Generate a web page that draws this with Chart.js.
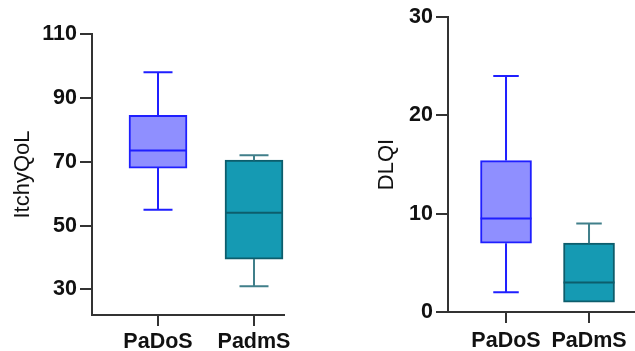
<!DOCTYPE html>
<html>
<head>
<meta charset="utf-8">
<script src="https://cdn.jsdelivr.net/npm/chart.js@4"></script>
<style>
  body { margin: 0; background: #fff; }
  #left { position: absolute; left: 0; top: 0; }
  #right { position: absolute; left: 318px; top: 0; }
</style>
</head>
<body>
<canvas id="left" width="318" height="351"></canvas>
<canvas id="right" width="317" height="351"></canvas>
<script>
// ItchyQoL panel
var itchyGroups = ["PaDoS", "PadmS"];
var itchyMin = [55, 31];
var itchyQ1 = [68, 39.5];
var itchyMed = [73.5, 54];
var itchyQ3 = [84.5, 70.5];
var itchyMax = [98, 72];
var itchyTicks = [30, 50, 70, 90, 110];

// DLQI panel
var dlqiGroups = ["PaDoS", "PaDmS"];
var dlqiMin = [2, 1];
var dlqiQ1 = [7, 1];
var dlqiMed = [9.5, 3];
var dlqiQ3 = [15.4, 7];
var dlqiMax = [24, 9];
var dlqiTicks = [0, 10, 20, 30];

var fillColors = ["#8f8fff", "#159ab3"];
var edgeColors = ["#1f1fff", "#0d5d6c"];
var whiskerColors = ["#1f1fff", "#407f8a"];

Chart.defaults.font.family = "'Liberation Sans', Arial, sans-serif";
Chart.defaults.color = "#111";

// whiskers + median lines, drawn through the chart scales
var boxPlugin = {
  id: "whiskers",
  afterDatasetsDraw: function(chart, args, opts) {
    var ctx = chart.ctx;
    var xs = chart.scales.x, ys = chart.scales.y;
    var meta = chart.getDatasetMeta(0);
    ctx.save();
    ctx.lineWidth = 2;
    for (var i = 0; i < opts.med.length; i++) {
      var bar = meta.data[i];
      var cx = xs.getPixelForValue(i + 1);
      var half = bar.width / 2;
      var cap = half / 2;
      var yq1 = ys.getPixelForValue(opts.q1[i]);
      var yq3 = ys.getPixelForValue(opts.q3[i]);
      var ymin = ys.getPixelForValue(opts.min[i]);
      var ymax = ys.getPixelForValue(opts.max[i]);
      var ymed = ys.getPixelForValue(opts.med[i]);
      ctx.strokeStyle = whiskerColors[i];
      ctx.beginPath();
      if (opts.max[i] > opts.q3[i]) {
        ctx.moveTo(cx, yq3); ctx.lineTo(cx, ymax);
        ctx.moveTo(cx - cap, ymax); ctx.lineTo(cx + cap, ymax);
      }
      if (opts.min[i] < opts.q1[i]) {
        ctx.moveTo(cx, yq1); ctx.lineTo(cx, ymin);
        ctx.moveTo(cx - cap, ymin); ctx.lineTo(cx + cap, ymin);
      }
      ctx.stroke();
      ctx.strokeStyle = edgeColors[i];
      ctx.beginPath();
      ctx.moveTo(cx - half, ymed); ctx.lineTo(cx + half, ymed);
      ctx.stroke();
    }
    ctx.restore();
  }
};

function makeBox(id, groups, mins, q1, med, q3, maxs, ticks, yMin, yMax, xMin, xMax, title, opt) {
  var boxes = [];
  for (var i = 0; i < groups.length; i++) {
    boxes.push({x: i + 1, y: [q1[i], q3[i]]});
  }
  return new Chart(id, {
    type: "bar",
    data: {
      datasets: [{
        data: boxes,
        backgroundColor: fillColors,
        borderColor: edgeColors,
        borderWidth: 2,
        borderSkipped: false,
        barThickness: opt.barW
      }]
    },
    options: {
      responsive: false,
      animation: false,
      layout: {padding: {left: opt.padLeft, right: opt.padRight, top: opt.padTop, bottom: 0}},
      plugins: {
        legend: {display: false},
        tooltip: {enabled: false},
        whiskers: {min: mins, q1: q1, med: med, q3: q3, max: maxs}
      },
      scales: {
        x: {
          type: "linear",
          min: xMin,
          max: xMax,
          offset: false,
          afterBuildTicks: function(s) { s.ticks = groups.map(function(g, i) { return {value: i + 1}; }); },
          afterFit: function(s) { s.height = opt.xH; },
          ticks: {
            autoSkip: false,
            maxRotation: 0,
            padding: opt.xPad,
            color: "#111",
            font: {size: 21.5, weight: "bold"},
            callback: function(v) { return groups[v - 1]; }
          },
          grid: {display: true, offset: false, drawOnChartArea: false, tickLength: 11, color: "#333", lineWidth: 2},
          border: {display: true, color: "#333", width: 2}
        },
        y: {
          min: yMin,
          max: yMax,
          afterBuildTicks: function(s) { s.ticks = ticks.map(function(t) { return {value: t}; }); },
          afterFit: function(s) { s.width = opt.yW; },
          ticks: {padding: 3, color: "#111", font: {size: 21.5, weight: "bold"}},
          grid: {display: true, drawOnChartArea: false, tickLength: 12, color: "#333", lineWidth: 2},
          border: {display: true, color: "#333", width: 2},
          title: {display: true, text: title, color: "#111", font: {size: 22}, padding: {top: opt.titlePad, bottom: 0}}
        }
      }
    },
    plugins: [boxPlugin]
  });
}

makeBox("left", itchyGroups, itchyMin, itchyQ1, itchyMed, itchyQ3, itchyMax, itchyTicks,
  22, 110, 0.3125, 2.3125, "ItchyQoL",
  {barW: 58, padLeft: 0, padRight: 34, padTop: 34, xH: 36, xPad: 3, yW: 92, titlePad: 10});

makeBox("right", dlqiGroups, dlqiMin, dlqiQ1, dlqiMed, dlqiQ3, dlqiMax, dlqiTicks,
  0, 30, 0.301, 2.554, "DLQI",
  {barW: 51, padLeft: 40, padRight: 0, padTop: 17, xH: 39, xPad: 5, yW: 90, titlePad: 16});
</script>
</body>
</html>
